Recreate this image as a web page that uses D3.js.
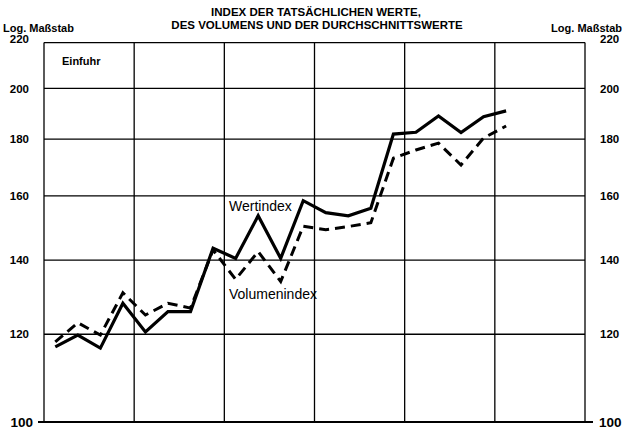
<!DOCTYPE html>
<html>
<head>
<meta charset="utf-8">
<script src="https://cdn.jsdelivr.net/npm/d3@7"></script>
<style>
  body { margin: 0; background: #fff; }
  svg { display: block; font-family: "Liberation Sans", Arial, sans-serif; }
</style>
</head>
<body>
<svg id="chart" width="624" height="429"></svg>
<script>
// quarters (6 years x 4), data starts at first quarter
var quarters = d3.range(21);
var wertindex = [116.9, 119.8, 116.6, 128.0, 120.6, 125.8, 125.8, 143.5, 140.5, 153.5, 140.5,
                 158.4, 154.5, 153.5, 155.9, 181.9, 182.6, 188.9, 182.5, 188.6, 190.9];
var volumenindex = [118.1, 122.9, 119.8, 130.8, 124.9, 128.0, 126.7, 143.0, 134.5, 142.5, 133.9,
                    150.2, 149.1, 150.1, 151.3, 173.0, 176.0, 178.5, 170.6, 180.4, 185.0];
var yTicks = [100, 120, 140, 160, 180, 200, 220];
var yearCount = 6;

var svg = d3.select('#chart');
var plotLeft = 44, plotRight = 585, plotTop = 42.6, plotBottom = 422;

var x = d3.scaleLinear().domain([0, yearCount * 4]).range([plotLeft, plotRight]);
var y = d3.scaleLog().domain([100, 220]).range([plotBottom, plotTop]);

// horizontal grid
svg.append('g')
    .selectAll('line')
    .data(yTicks.filter(function(d) { return d !== 100; }))
    .enter().append('line')
    .attr('x1', plotLeft).attr('x2', plotRight)
    .attr('y1', function(d) { return y(d); })
    .attr('y2', function(d) { return y(d); })
    .attr('stroke', '#000').attr('stroke-width', 1.3);

// vertical year lines
svg.append('g')
    .selectAll('line')
    .data(d3.range(yearCount + 1))
    .enter().append('line')
    .attr('x1', function(d) { return x(d * 4); })
    .attr('x2', function(d) { return x(d * 4); })
    .attr('y1', plotTop).attr('y2', plotBottom)
    .attr('stroke', '#000').attr('stroke-width', 1.3);

// base line at 100 with ticks sticking out
svg.append('line')
    .attr('x1', plotLeft - 6).attr('x2', plotRight + 8)
    .attr('y1', y(100)).attr('y2', y(100))
    .attr('stroke', '#000').attr('stroke-width', 2.2);

// tick labels both sides
var labels = svg.append('g').attr('font-weight', 'bold').attr('fill', '#000');
yTicks.forEach(function(d) {
    var big = d === 100;
    var dy = d === 220 ? 0 : 0.36;
    labels.append('text')
        .attr('x', big ? 33 : 29).attr('y', y(d))
        .attr('dy', dy + 'em')
        .attr('text-anchor', 'end')
        .attr('font-size', big ? 13.5 : 11.5)
        .text(d);
    labels.append('text')
        .attr('x', big ? 599 : 600).attr('y', y(d))
        .attr('dy', dy + 'em')
        .attr('font-size', big ? 13.5 : 11.5)
        .text(d);
});

// series
var line = d3.line()
    .x(function(d, i) { return x(quarters[i] + 0.5); })
    .y(function(d) { return y(d); });

svg.append('path')
    .datum(volumenindex)
    .attr('d', line)
    .attr('fill', 'none')
    .attr('stroke', '#000')
    .attr('stroke-width', 3)
    .attr('stroke-dasharray', '10,6');

svg.append('path')
    .datum(wertindex)
    .attr('d', line)
    .attr('fill', 'none')
    .attr('stroke', '#000')
    .attr('stroke-width', 3.2)
    .attr('stroke-linejoin', 'miter');

// series labels
svg.append('text').attr('x', 229).attr('y', 211).attr('font-size', 14).text('Wertindex');
svg.append('text').attr('x', 229).attr('y', 299).attr('font-size', 14).text('Volumenindex');

// headings
svg.append('text').attr('x', 62).attr('y', 64.5)
    .attr('font-size', 11).attr('font-weight', 'bold').text('Einfuhr');

var title = svg.append('g').attr('font-weight', 'bold').attr('font-size', 11.5)
    .attr('text-anchor', 'middle');
title.append('text').attr('x', 316).attr('y', 16).text('INDEX DER TATSÄCHLICHEN WERTE,');
title.append('text').attr('x', 317).attr('y', 29.3).text('DES VOLUMENS UND DER DURCHSCHNITTSWERTE');

svg.append('text').attr('x', 3).attr('y', 32).attr('font-size', 11)
    .attr('font-weight', 'bold').text('Log. Maßstab');
svg.append('text').attr('x', 622).attr('y', 32).attr('font-size', 11)
    .attr('font-weight', 'bold').attr('text-anchor', 'end').text('Log. Maßstab');
</script>
</body>
</html>
